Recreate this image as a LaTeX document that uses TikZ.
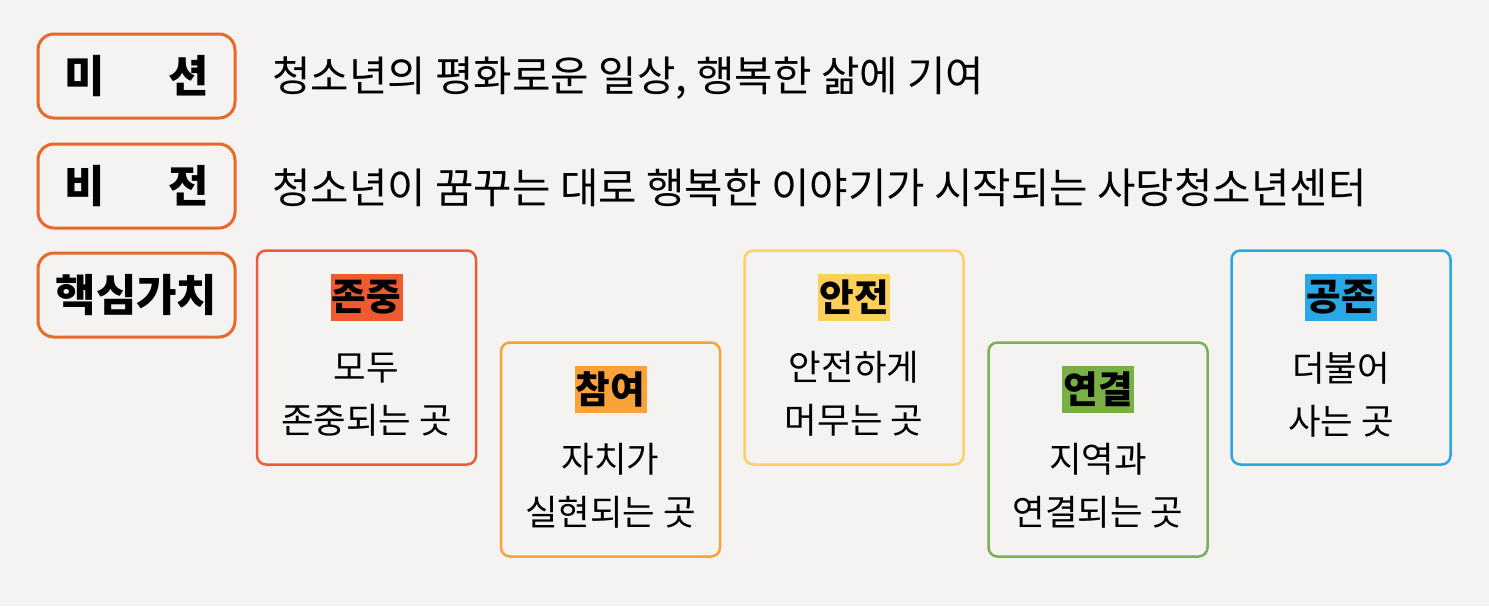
\documentclass[tikz,border=0pt]{standalone}
\usepackage{fontspec}
\setmainfont{Noto Sans CJK KR}
\definecolor{bg}{HTML}{F4F3F1}
\definecolor{labor}{HTML}{E8682A}
\definecolor{cred}{HTML}{EE5B3B}
\definecolor{fred}{HTML}{F05A30}
\definecolor{cor}{HTML}{F5A33B}
\definecolor{for}{HTML}{F9A23A}
\definecolor{cyel}{HTML}{F9D262}
\definecolor{fyel}{HTML}{FDD05A}
\definecolor{cgrn}{HTML}{7DB053}
\definecolor{fgrn}{HTML}{78B043}
\definecolor{cblu}{HTML}{2EA5E0}
\definecolor{fblu}{HTML}{2AA8E5}
\begin{document}
\begin{tikzpicture}[x=1pt,y=-1pt,
  lab/.style={draw=labor, line width=3pt, rounded corners=16pt, minimum width=197pt, minimum height=84pt, inner sep=0pt,
     font=\fontsize{44}{50}\selectfont\bfseries},
  line/.style={anchor=west, inner sep=0pt, font=\fontsize{41.8}{48}\selectfont},
  vbox/.style={draw=#1, line width=2.5pt, rounded corners=9pt, minimum width=219pt, minimum height=214pt, inner sep=0pt},
  vtitle/.style={fill=#1, inner sep=0pt, minimum width=72pt, minimum height=47pt, font=\fontsize{37.6}{42}\selectfont\bfseries},
  vbody/.style={inner sep=0pt, align=center, font=\fontsize{35.4}{53}\selectfont}]
\fill[bg] (0,0) rectangle (1489,606);
\useasboundingbox (0,0) rectangle (1489,606);
% labels
\node[lab] (mission) at (136.5,76) {미\hspace{64pt}션};
\node[lab] (vision) at (136.5,186) {비\hspace{64pt}전};
\node[lab] (values) at (136.5,295) {핵심가치};
\node[line] (mtext) at (272,78) {청소년의 평화로운 일상, 행복한 삶에 기여};
\node[line] (vtext) at (272,188) {청소년이 꿈꾸는 대로 행복한 이야기가 시작되는 사당청소년센터};
% value boxes
\node[vbox=cred] (b1) at (366.5,357.5) {};
\node[vbox=cor]  (b2) at (610.5,449.5) {};
\node[vbox=cyel] (b3) at (854,357.5) {};
\node[vbox=cgrn] (b4) at (1098,449.5) {};
\node[vbox=cblu] (b5) at (1341,357.5) {};
\node[vtitle=fred] (t1) at ([yshift=-48pt]b1.north) {존중};
\node[vtitle=for]  (t2) at ([yshift=-48pt]b2.north) {참여};
\node[vtitle=fyel] (t3) at ([yshift=-48pt]b3.north) {안전};
\node[vtitle=fgrn] (t4) at ([yshift=-48pt]b4.north) {연결};
\node[vtitle=fblu] (t5) at ([yshift=-48pt]b5.north) {공존};
\node[vbody] (d1) at ([yshift=-145pt]b1.north) {모두\\존중되는 곳};
\node[vbody] (d2) at ([yshift=-145pt]b2.north) {자치가\\실현되는 곳};
\node[vbody] (d3) at ([yshift=-145pt]b3.north) {안전하게\\머무는 곳};
\node[vbody] (d4) at ([yshift=-145pt]b4.north) {지역과\\연결되는 곳};
\node[vbody] (d5) at ([yshift=-145pt]b5.north) {더불어\\사는 곳};
\end{tikzpicture}
\end{document}
